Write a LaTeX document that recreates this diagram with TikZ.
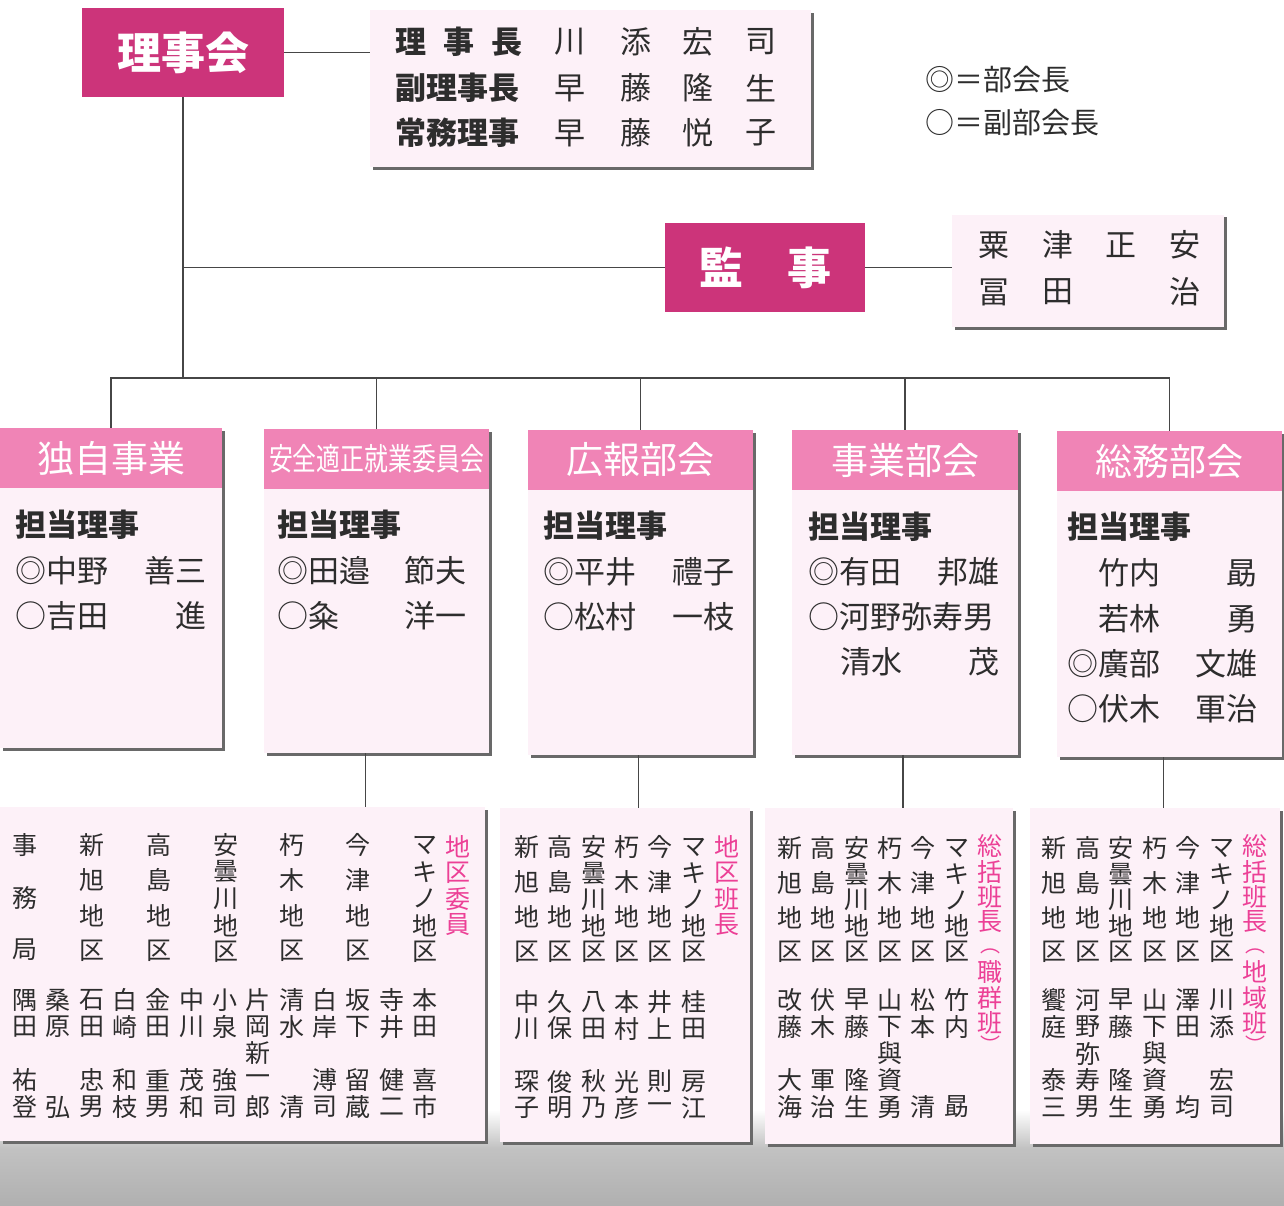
\documentclass[tikz,border=0pt]{standalone}
\usepackage{fontspec}
\usepackage{graphicx}
\newfontfamily\jp{Noto Sans CJK JP}
\usetikzlibrary{shadows,calc}
\definecolor{cMag}{RGB}{204,52,122}
\definecolor{cHdr}{RGB}{240,132,182}
\definecolor{cPanel}{RGB}{253,241,248}
\definecolor{cAccent}{RGB}{236,64,150}
\definecolor{cInk}{RGB}{45,45,45}
\definecolor{cWire}{RGB}{70,70,70}
\definecolor{cShade}{RGB}{105,105,105}
\newcounter{tn}
% x, y0, step, style, list of glyphs
\newcommand\vcol[5]{%
  \foreach \c [count=\i] in {#5}{%
    \stepcounter{tn}%
    \node[#4] (t\number\value{tn}) at (#1,{#2+(\i-1)*#3}) {\c};}}
% x, style, list y/glyph
\newcommand\vlist[3]{%
  \foreach \yy/\c in {#3}{%
    \stepcounter{tn}%
    \node[#2] (t\number\value{tn}) at (#1,\yy) {\c};}}
% y, style, list x/glyph
\newcommand\hrow[3]{%
  \foreach \xx/\c in {#3}{%
    \stepcounter{tn}%
    \node[#2] (t\number\value{tn}) at (\xx,#1) {\c};}}
\begin{document}
\begin{tikzpicture}[x=1pt,y=-1pt,
  wire/.style={draw=cWire,line width=1.3pt},
  panelbox/.style={fill=cPanel,inner sep=0,
    drop shadow={shadow xshift=2.5pt,shadow yshift=-2.5pt,fill=cShade,opacity=1}},
  hdrbox/.style={fill=cHdr,inner sep=0,minimum height=60pt,anchor=north},
  darkbox/.style={fill=cMag,text=white,inner sep=0,font=\jp\bfseries\fontsize{44}{44}\selectfont},
  lbl/.style={font=\jp\bfseries\fontsize{31}{31}\selectfont,text=cInk,inner sep=0},
  nm/.style={font=\jp\fontsize{31}{31}\selectfont,text=cInk,inner sep=0},
  vt/.style={font=\jp\fontsize{25}{25}\selectfont,text=cInk,inner sep=0},
  va/.style={font=\jp\fontsize{25}{25}\selectfont,text=cAccent,inner sep=0},
  vp/.style={font=\jp\fontsize{20}{20}\selectfont,text=cAccent,inner sep=0},
  hdrtxt/.style={font=\jp\fontsize{37}{37}\selectfont,text=white,inner sep=0},
  lg/.style={font=\jp\fontsize{29}{29}\selectfont,text=cInk,inner sep=0,anchor=west}]
\useasboundingbox (0,0) rectangle (1284,1206);
\fill[white] (0,0) rectangle (1284,1206);
% bottom grey band
\shade[top color=white,bottom color=black!24] (0,1110) rectangle (1284,1148);
\shade[top color=black!24,bottom color=black!31] (0,1148) rectangle (1284,1206);

% ---------- top ----------
\node[darkbox,minimum width=202pt,minimum height=89pt] (rijikai) at (183,52.5) {理事会};
\node[panelbox,minimum width=441pt,minimum height=157pt] (board) at (590.5,89) {};
\node[darkbox,minimum width=200pt,minimum height=89pt] (kanji) at (765,267.5) {監　事};
\node[panelbox,minimum width=272pt,minimum height=112pt] (kanjimem) at (1088,271) {};

\hrow{42}{lbl}{411/理,459/事,507/長}
\node[lbl,anchor=west] (vchair) at (395,88) {副理事長};
\node[lbl,anchor=west] (exec) at (395,133) {常務理事};
\hrow{42}{nm}{570/川,636/添,698/宏,761/司}
\hrow{88}{nm}{570/早,636/藤,698/隆,761/生}
\hrow{133}{nm}{570/早,636/藤,698/悦,761/子}

\hrow{245}{nm}{994/粟,1058/津,1121/正,1185/安}
\hrow{292}{nm}{994/冨,1058/田,1185/治}

\node[lg] (leg1) at (925,80) {◎＝部会長};
\node[lg] (leg2) at (925,123) {○＝副部会長};

% ---------- departments ----------
\node[panelbox,minimum width=222pt,minimum height=320pt] (d1) at (111,588) {};
\node[panelbox,minimum width=225pt,minimum height=324pt] (d2) at (376.5,591) {};
\node[panelbox,minimum width=225pt,minimum height=325pt] (d3) at (640.5,592.5) {};
\node[panelbox,minimum width=226pt,minimum height=325pt] (d4) at (905,592.5) {};
\node[panelbox,minimum width=225pt,minimum height=326pt] (d5) at (1169.5,594) {};
\node[hdrbox,minimum width=222pt] (h1) at (d1.north) {};
\node[hdrbox,minimum width=225pt] (h2) at (d2.north) {};
\node[hdrbox,minimum width=225pt] (h3) at (d3.north) {};
\node[hdrbox,minimum width=226pt] (h4) at (d4.north) {};
\node[hdrbox,minimum width=225pt] (h5) at (d5.north) {};
\node[hdrtxt] (h1t) at (h1) {独自事業};
\node[hdrtxt,font=\jp\fontsize{31}{31}\selectfont] (h2t) at (h2) {\scalebox{0.77}[1]{安全適正就業委員会}};
\node[hdrtxt] (h3t) at (h3) {広報部会};
\node[hdrtxt] (h4t) at (h4) {事業部会};
\node[hdrtxt] (h5t) at (h5) {総務部会};

% d1
\node[lbl,anchor=west] (d1a) at (15,525) {担当理事};
\node[nm,anchor=west] (d1b) at (15,571) {◎中野};
\node[nm,anchor=east] (d1c) at (207,571) {善三};
\node[nm,anchor=west] (d1d) at (15,616) {○吉田};
\node[nm,anchor=east] (d1e) at (207,616) {進};
% d2
\node[lbl,anchor=west] (d2a) at (277,525) {担当理事};
\node[nm,anchor=west] (d2b) at (277,571) {◎田邉};
\node[nm,anchor=east] (d2c) at (467,571) {節夫};
\node[nm,anchor=west] (d2d) at (277,616) {○粂};
\node[nm,anchor=east] (d2e) at (467,616) {洋一};
% d3
\node[lbl,anchor=west] (d3a) at (543,526) {担当理事};
\node[nm,anchor=west] (d3b) at (543,572) {◎平井};
\node[nm,anchor=east] (d3c) at (735,572) {禮子};
\node[nm,anchor=west] (d3d) at (543,617) {○松村};
\node[nm,anchor=east] (d3e) at (735,617) {一枝};
% d4
\node[lbl,anchor=west] (d4a) at (808,527) {担当理事};
\node[nm,anchor=west] (d4b) at (808,572) {◎有田};
\node[nm,anchor=east] (d4c) at (1000,572) {邦雄};
\node[nm,anchor=west] (d4d) at (808,617) {○河野弥寿男};
\node[nm,anchor=west] (d4e) at (840,662) {清水};
\node[nm,anchor=east] (d4f) at (1000,662) {茂};
% d5
\node[lbl,anchor=west] (d5a) at (1067,527) {担当理事};
\node[nm,anchor=west] (d5b) at (1098,573) {竹内};
\node[nm,anchor=east] (d5c) at (1258,573) {勗};
\node[nm,anchor=west] (d5d) at (1098,619) {若林};
\node[nm,anchor=east] (d5e) at (1258,619) {勇};
\node[nm,anchor=west] (d5f) at (1067,664) {◎廣部};
\node[nm,anchor=east] (d5g) at (1258,664) {文雄};
\node[nm,anchor=west] (d5h) at (1067,709) {○伏木};
\node[nm,anchor=east] (d5i) at (1258,709) {軍治};

% ---------- lower boxes ----------
\node[panelbox,minimum width=485pt,minimum height=334pt] (A) at (242.5,974) {};
\node[panelbox,minimum width=250pt,minimum height=334pt] (B) at (625,975) {};
\node[panelbox,minimum width=248pt,minimum height=336pt] (C) at (889,976) {};
\node[panelbox,minimum width=250pt,minimum height=336pt] (D) at (1155,976) {};

% box A
\vcol{25}{845}{52.5}{vt}{事,務,局}
\vcol{92}{845}{35.3}{vt}{新,旭,地,区}
\vcol{159}{845}{35.3}{vt}{高,島,地,区}
\vcol{226}{845}{26.75}{vt}{安,曇,川,地,区}
\vcol{292}{845}{35.3}{vt}{朽,木,地,区}
\vcol{358}{845}{35.3}{vt}{今,津,地,区}
\vcol{425}{845}{26.75}{vt}{マ,キ,ノ,地,区}
\vcol{458}{847}{26}{va}{地,区,委,員}
\vcol{25}{1000}{26.75}{vt}{隅,田,,祐,登}
\vcol{58.3}{1000}{26.75}{vt}{桑,原,,,弘}
\vcol{91.7}{1000}{26.75}{vt}{石,田,,忠,男}
\vcol{125}{1000}{26.75}{vt}{白,崎,,和,枝}
\vcol{158.3}{1000}{26.75}{vt}{金,田,,重,男}
\vcol{191.7}{1000}{26.75}{vt}{中,川,,茂,和}
\vcol{225}{1000}{26.75}{vt}{小,泉,,強,司}
\vcol{258.3}{1000}{26.75}{vt}{片,岡,新,一,郎}
\vcol{291.7}{1000}{26.75}{vt}{清,水,,,清}
\vcol{325}{1000}{26.75}{vt}{白,岸,,溥,司}
\vcol{358.3}{1000}{26.75}{vt}{坂,下,,留,蔵}
\vcol{391.7}{1000}{26.75}{vt}{寺,井,,健,二}
\vcol{425}{1000}{26.75}{vt}{本,田,,喜,市}

% box B
\vcol{527}{847}{35}{vt}{新,旭,地,区}
\vcol{560.3}{847}{35}{vt}{高,島,地,区}
\vcol{593.6}{847}{26.25}{vt}{安,曇,川,地,区}
\vcol{627}{847}{35}{vt}{朽,木,地,区}
\vcol{660.2}{847}{35}{vt}{今,津,地,区}
\vcol{693.5}{847}{26.25}{vt}{マ,キ,ノ,地,区}
\vcol{727}{847}{26}{va}{地,区,班,長}
\vcol{527}{1002}{26.5}{vt}{中,川,,琛,子}
\vcol{560.3}{1002}{26.5}{vt}{久,保,,俊,明}
\vcol{593.6}{1002}{26.5}{vt}{八,田,,秋,乃}
\vcol{627}{1002}{26.5}{vt}{本,村,,光,彦}
\vcol{660.2}{1002}{26.5}{vt}{井,上,,則,一}
\vcol{693.5}{1002}{26.5}{vt}{桂,田,,房,江}

% box C
\vcol{790}{848}{34.7}{vt}{新,旭,地,区}
\vcol{823.3}{848}{34.7}{vt}{高,島,地,区}
\vcol{856.6}{848}{26}{vt}{安,曇,川,地,区}
\vcol{890}{848}{34.7}{vt}{朽,木,地,区}
\vcol{923.2}{848}{34.7}{vt}{今,津,地,区}
\vcol{956.5}{848}{26}{vt}{マ,キ,ノ,地,区}
\vlist{990}{va}{846/総,872/括,897/班,922/長,972/職,998/群,1023/班}
\vlist{990}{vp}{951/︵,1044/︶}
\vcol{790}{1000}{26.75}{vt}{改,藤,,大,海}
\vcol{823.3}{1000}{26.75}{vt}{伏,木,,軍,治}
\vcol{856.6}{1000}{26.75}{vt}{早,藤,,隆,生}
\vcol{890}{1000}{26.75}{vt}{山,下,與,資,勇}
\vcol{923.2}{1000}{26.75}{vt}{松,本,,,清}
\vcol{956.5}{1000}{26.75}{vt}{竹,内,,,勗}

% box D
\vcol{1054}{848}{34.7}{vt}{新,旭,地,区}
\vcol{1087.6}{848}{34.7}{vt}{高,島,地,区}
\vcol{1121.2}{848}{26}{vt}{安,曇,川,地,区}
\vcol{1154.8}{848}{34.7}{vt}{朽,木,地,区}
\vcol{1188.4}{848}{34.7}{vt}{今,津,地,区}
\vcol{1222}{848}{26}{vt}{マ,キ,ノ,地,区}
\vlist{1255}{va}{846/総,872/括,897/班,922/長,972/地,998/域,1023/班}
\vlist{1255}{vp}{951/︵,1044/︶}
\vcol{1054}{1000}{26.75}{vt}{饗,庭,,泰,三}
\vcol{1087.6}{1000}{26.75}{vt}{河,野,弥,寿,男}
\vcol{1121.2}{1000}{26.75}{vt}{早,藤,,隆,生}
\vcol{1154.8}{1000}{26.75}{vt}{山,下,與,資,勇}
\vcol{1188.4}{1000}{26.75}{vt}{澤,田,,,均}
\vcol{1222}{1000}{26.75}{vt}{川,添,,宏,司}

% ---------- connectors ----------
\coordinate (bus) at (183,378);
\draw[wire] (rijikai.east) -- (rijikai.east -| board.west);
\draw[wire] (rijikai.south) -- (bus);
\draw[wire] (kanji.west) -- (kanji.west -| rijikai.south);
\draw[wire] (kanji.east) -- (kanji.east -| kanjimem.west);
\draw[wire] (h1.north) |- (bus) -| (h5.north);
\foreach \d in {h2,h3,h4} \draw[wire] (\d.north) -- (\d.north |- bus);
\draw[wire] ([xshift=-11pt]d2.south) -- ([xshift=-11pt]d2.south |- A.north);
\draw[wire] ([xshift=-2pt]d3.south) -- ([xshift=-2pt]d3.south |- B.north);
\draw[wire] ([xshift=-2pt]d4.south) -- ([xshift=-2pt]d4.south |- C.north);
\draw[wire] ([xshift=-6pt]d5.south) -- ([xshift=-6pt]d5.south |- D.north);
\end{tikzpicture}
\end{document}
